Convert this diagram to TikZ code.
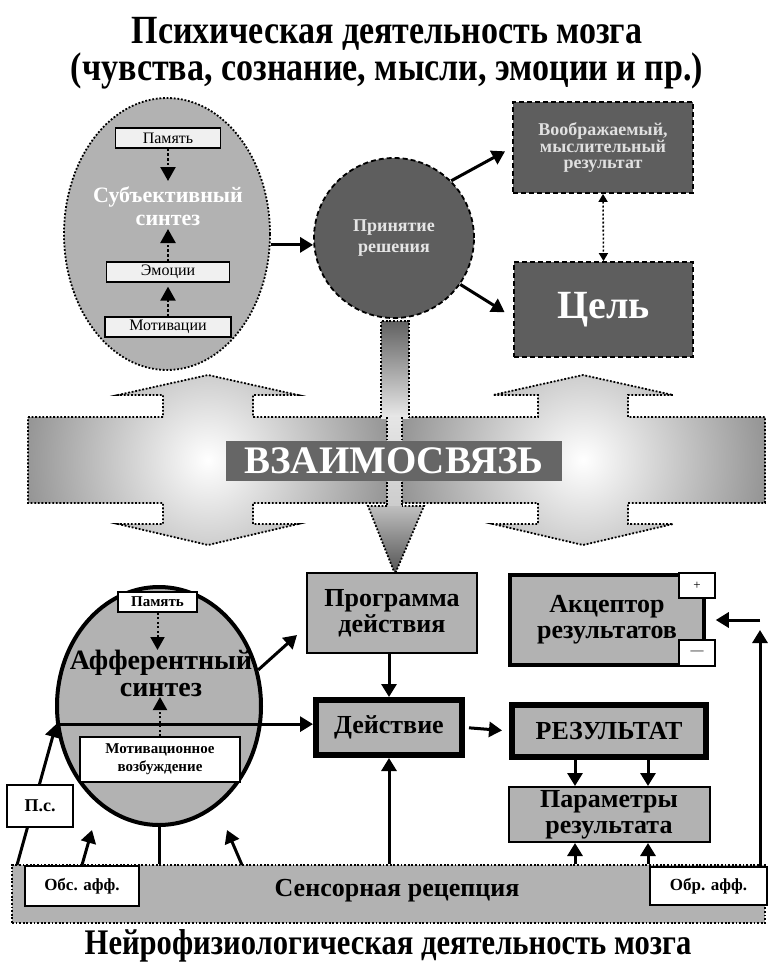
\documentclass[tikz,border=0pt]{standalone}
\usepackage{fontspec}
\setmainfont{Liberation Serif}
\newfontfamily\condfont{Liberation Serif}[FakeStretch=0.85]
\usetikzlibrary{arrows.meta,shapes.geometric}
\newcommand\fsz[2]{\fontsize{#1}{#2}\selectfont}
\newcommand\bigshape{(28,417) -- (163,417) -- (163,395) -- (118,395) -- (208,375) -- (298,395) -- (253,395) -- (253,417) -- (538,417) -- (538,395) -- (493,395) -- (583,375) -- (673,395) -- (628,395) -- (628,417) -- (765,417) -- (765,503) -- (628,503) -- (628,524) -- (673,524) -- (583,545) -- (493,524) -- (538,524) -- (538,503) -- (253,503) -- (253,524) -- (298,524) -- (208,545) -- (118,524) -- (163,524) -- (163,503) -- (28,503) -- cycle}
\tikzset{
  dotb/.style={draw=black, line width=1.8pt, dash pattern=on 1.8pt off 1.8pt},
  dashb/.style={draw=black, line width=1.8pt, dash pattern=on 5pt off 3pt},
  tbox/.style={draw, line width=1.3pt, fill=black!6, inner sep=0pt, font=\fsz{16}{16}},
  wbox/.style={draw, line width=1.5pt, fill=white, inner sep=0pt, align=center, font=\bfseries\fsz{17}{17}},
  gbox/.style={draw, fill=black!30, inner sep=0pt, align=center, font=\bfseries\fsz{26}{26}},
  dbox/.style={dashb, fill=black!63, inner sep=0pt, align=center, text=black!12},
  arr/.style={line width=3pt, -{Triangle[width=15pt,length=13pt]}},
  darr/.style={line width=2.4pt, dash pattern=on 2.4pt off 2.4pt, -{Triangle[width=15pt,length=14pt]}},
}
\begin{document}
\begin{tikzpicture}[x=1pt,y=-1pt]
\useasboundingbox[fill=white] (0,0) rectangle (771,967);

% titles
\node[font=\condfont\bfseries\fsz{40}{37}, align=center] (title) at (387,53) {Психическая деятельность мозга\\(чувства, сознание, мысли, эмоции и пр.)};
\node[font=\condfont\bfseries\fsz{36}{36}] (title2) at (388,946) {Нейрофизиологическая деятельность мозга};

% ---- upper part
\node[ellipse, dotb, fill=black!30, minimum width=206pt, minimum height=272pt] (subj) at (167,234) {};
\node[tbox, minimum width=105pt, minimum height=20pt] (mem1) at (168,138) {Память};
\node[tbox, minimum width=123pt, minimum height=20pt] (emo) at (168,272) {Эмоции};
\node[tbox, minimum width=126pt, minimum height=20pt] (mot) at (168,327) {Мотивации};
\node[font=\bfseries\fsz{22}{23}, text=white, align=center] (subjtxt) at (168,206) {Субъективный\\синтез};
\coordinate (t1) at (168,181);
\coordinate (t2) at (168,229);
\draw[darr] (mem1.south) -- (t1);
\draw[darr] (emo.north) -- (t2);
\draw[darr, shorten >=4pt] (mot.north) -- (emo.south);

\node[circle, dashb, fill=black!63, minimum size=160pt, inner sep=0pt, align=center, text=black!10, font=\bfseries\fsz{18}{21}] (dec) at (394,238) {Принятие\\решения};
\node[dbox, minimum width=180pt, minimum height=91pt, font=\bfseries\fsz{18}{16.5}] (imag) at (603,147.5) {Воображаемый,\\мыслительный\\результат};
\node[dbox, minimum width=179pt, minimum height=95pt, font=\bfseries\fsz{40}{40}, text=white] (goal) at (603.5,309.5) {Цель};

\draw[arr] (subj.-6) -- (subj.-6 -| dec.west);
\draw[arr, shorten >=8pt] (dec.45) -- (imag.west);
\draw[arr, shorten >=10pt] (dec.-35) -- (goal.185);
\draw[line width=1.6pt, dash pattern=on 2pt off 2pt, {Triangle[width=9pt,length=8pt]}-{Triangle[width=9pt,length=8pt]}] (imag.south) -- (goal.north);

% ---- middle band
\fill[black!60] \bigshape;
\begin{scope}
  \clip \bigshape;
  \clip (0,300) rectangle (396,600);
  \shade[inner color=white, outer color=black!60] (208,460) circle (265);
\end{scope}
\begin{scope}
  \clip \bigshape;
  \clip (396,300) rectangle (771,600);
  \shade[inner color=white, outer color=black!60] (583,460) circle (265);
\end{scope}
\path[dotb] \bigshape;
% central down arrow
\shade[top color=black!62, bottom color=black!8] (381,321) rectangle (409,418.5);
\draw[dotb] (381,417) -- (381,321) -- (409,321) -- (409,417);
\shade[top color=black!10, bottom color=black!20] (387,417) rectangle (402,508);
\draw[dotb] (387,417) -- (387,506) (402,417) -- (402,506);
\shade[top color=black!25, bottom color=black!68] (368,506) -- (424,506) -- (395,574) -- cycle;
\path[dotb] (387,506) -- (368,506) -- (395,574) -- (424,506) -- (402,506);
\node[fill=black!60, minimum width=336pt, minimum height=40pt, inner sep=0pt, text=white, font=\bfseries\fsz{39}{39}] (vz) at (394,461) {ВЗАИМОСВЯЗЬ};

% ---- lower part
\node[draw, fill=black!30, dotb, minimum width=753pt, minimum height=58pt, inner sep=0pt] (sens) at (388.5,894) {};
\node[font=\bfseries\fsz{26}{26}] (senstxt) at (397,891) {Сенсорная рецепция};
\node[wbox, minimum width=114pt, minimum height=40pt] (obs) at (82,886) {Обс. афф.};
\node[wbox, minimum width=117pt, minimum height=38pt] (obr) at (708.5,886) {Обр. афф.};

\node[ellipse, draw, line width=4pt, fill=black!30, minimum width=204pt, minimum height=238pt] (aff) at (159,706) {};
\node[wbox, minimum width=79pt, minimum height=20pt, font=\bfseries\fsz{15}{15}] (mem2) at (157.5,602) {Память};
\node[font=\bfseries\fsz{28}{27}, align=center] (afftxt) at (161,673) {Афферентный\\синтез};
\node[wbox, minimum width=160pt, minimum height=45pt, font=\bfseries\fsz{15}{18}] (motv) at (160,759.5) {Мотивационное\\возбуждение};
\coordinate (a1) at (157.5,650);
\coordinate (a2) at (160,697);
\draw[darr, line width=2pt, dash pattern=on 2pt off 2.5pt, -{Triangle[width=14pt,length=13pt]}] (mem2.south) -- (a1);
\draw[darr, line width=2pt, dash pattern=on 2pt off 2.5pt, -{Triangle[width=14pt,length=13pt]}] (motv.north) -- (a2);

\node[gbox, line width=2pt, minimum width=170pt, minimum height=80pt] (prog) at (392,613) {Программа\\действия};
\node[gbox, line width=6pt, minimum width=146pt, minimum height=55pt] (act) at (389,727.5) {Действие};
\node[gbox, line width=6pt, minimum width=194pt, minimum height=52pt] (res) at (609,731) {РЕЗУЛЬТАТ};
\node[gbox, line width=2pt, minimum width=201pt, minimum height=55pt] (par) at (609,814.5) {Параметры\\результата};
\node[gbox, line width=4pt, minimum width=194pt, minimum height=90pt] (acc) at (607,620) {Акцептор\\результатов};
\node[wbox, minimum width=36pt, minimum height=25pt, font=\fsz{13}{13}] (plus) at (697,585.5) {+};
\node[wbox, minimum width=36pt, minimum height=26pt, font=\fsz{13}{13}] (minus) at (697,653) {---};

% connectors lower
\draw[line width=3pt] (aff.south) -- (aff.south |- sens.north);
\draw[arr] (aff.190) -- (aff.190 -| act.west);
\coordinate (pr) at (297,635);
\draw[arr] (aff.20) -- (pr);
\coordinate (psb) at (17,865);
\draw[arr] (psb) -- (aff.190);
\node[wbox, minimum width=66pt, minimum height=42pt, font=\bfseries\fsz{18}{18}] (ps) at (40,806) {П.с.};
\coordinate (o1) at (82,865);
\coordinate (o1e) at (92,830);
\coordinate (o2) at (242,865);
\coordinate (o2e) at (227,830);
\draw[arr] (o1) -- (o1e);
\draw[arr] (o2) -- (o2e);

\draw[arr] (act.north |- prog.south) -- (act.north);
\draw[arr, shorten <=4pt, shorten >=7pt] (act.east) -- (res.west);
\draw[arr] ([xshift=-34pt]res.south) -- ([xshift=-34pt]res.south |- par.north);
\draw[arr] ([xshift=39pt]res.south) -- ([xshift=39pt]res.south |- par.north);
\draw[arr] ([xshift=-34pt]par.south |- sens.north) -- ([xshift=-34pt]par.south);
\draw[arr] ([xshift=39pt]par.south |- sens.north) -- ([xshift=39pt]par.south);
\draw[arr] (act.south |- sens.north) -- (act.south);
\coordinate (fb) at (760,630);
\coordinate (fh) at (760,620);
\draw[arr] ([xshift=51.5pt]obr.north) -- (fb);
\draw[arr] (fh) -- (plus.east |- acc.east);
\end{tikzpicture}
\end{document}
